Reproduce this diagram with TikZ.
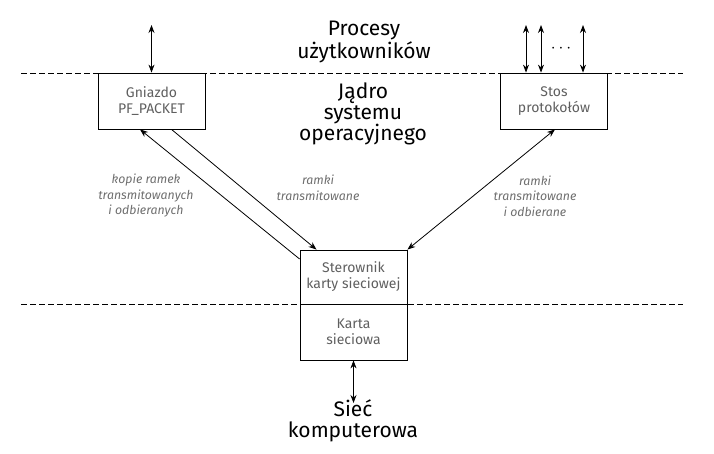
\documentclass[tikz,border=0pt]{standalone}
\usepackage{fontspec}
\setmainfont{Fira Sans}
\usepackage{tikz}
\usetikzlibrary{arrows,arrows.meta,shapes}
\usetikzlibrary{positioning}
\definecolor{boxtext}{RGB}{95,95,95}
\definecolor{opistext}{RGB}{110,110,110}
\tikzstyle{blok}=[draw,thick,rectangle,minimum width=107pt,minimum height=56pt,
                inner sep=0,align=center,text=boxtext,font=\fontsize{14}{16}\selectfont]
\tikzstyle{warstwa}=[align=center,font=\fontsize{21}{21}\selectfont]
\tikzstyle{opis}=[align=center,text=opistext,font=\fontsize{12.3}{15.5}\selectfont\itshape]
\tikzstyle{granica}=[dashed,thick,dash pattern=on 6pt off 3pt]
\tikzstyle{hit}=[thick,{Stealth[length=8pt,width=6pt]}-{Stealth[length=8pt,width=6pt]}]
\tikzstyle{jedn}=[thick,-{Stealth[length=8pt,width=6pt]}]

\begin{document}
\begin{tikzpicture}[x=1pt,y=-1pt]
\useasboundingbox (0,0) rectangle (714,453);
% granice warstw
\coordinate (g1l) at (21,73);
\coordinate (g1r) at (683,73);
\coordinate (g2l) at (21,304);
\coordinate (g2r) at (683,304);
\draw[granica] (g1l) -- (g1r);
\draw[granica] (g2l) -- (g2r);
% warstwy
\node[warstwa] (procesy) at (364,42) {Procesy\\użytkowników};
\node[warstwa] (jadro) at (363,114) {Jądro\\systemu\\operacyjnego};
\node[warstwa] (siec) at (353,421) {Sieć\\komputerowa};
% bloki
\node[blok] (gniazdo) at (151.5,101) {Gniazdo\\PF\_PACKET};
\node[blok] (stos) at (554,101) {Stos\\protokołów};
\node[blok,minimum height=54pt] (sterownik) at (353.5,277) {Sterownik\\karty sieciowej};
\node[blok] (karta) at (353.5,332) {Karta\\sieciowa};
% procesy
\coordinate (p0) at (151.5,25);
\coordinate (p1) at (526,25);
\coordinate (p2) at (541,25);
\coordinate (p3) at (583,25);
\draw[hit] (p0) -- (gniazdo.north);
\draw[hit] (p1) -- (p1 |- stos.north);
\draw[hit] (p2) -- (p2 |- stos.north);
\draw[hit] (p3) -- (p3 |- stos.north);
\node[font=\fontsize{16}{16}\selectfont] (kropki) at (561,49) {$\cdots$};
% ramki
\draw[jedn] ([yshift=18pt]sterownik.west) -- ([xshift=-11.5pt]gniazdo.south);
\draw[jedn] ([xshift=20pt]gniazdo.south) -- ([xshift=-37pt]sterownik.north);
\draw[hit] ([xshift=1pt]stos.south) -- (sterownik.north east);
\node[opis] (kopie) at (146,196) {kopie ramek\\transmitowanych\\i odbieranych};
\node[opis] (ramki1) at (318,188) {ramki\\transmitowane};
\node[opis] (ramki2) at (535,196) {ramki\\transmitowane\\i odbierane};
% siec
\coordinate (s0) at (353.5,403);
\draw[hit] (karta.south) -- (s0);
\end{tikzpicture}
\end{document}
